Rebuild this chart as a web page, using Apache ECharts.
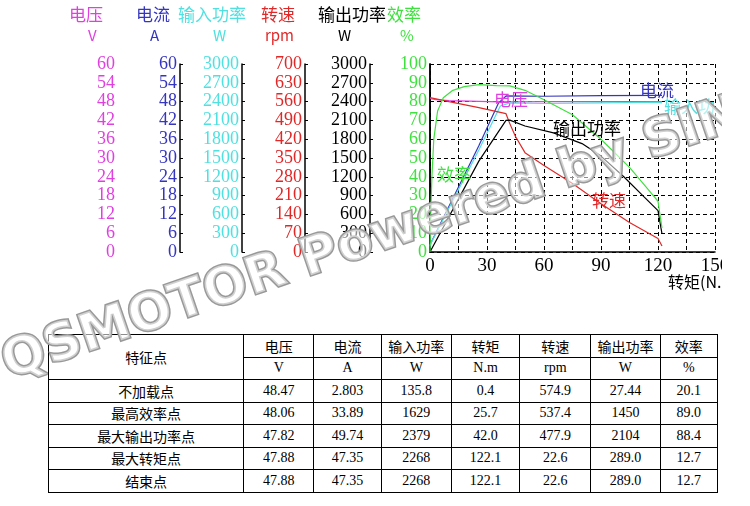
<!DOCTYPE html>
<html>
<head>
<meta charset="utf-8">
<script src="https://cdn.jsdelivr.net/npm/echarts@6/dist/echarts.min.js"></script>
<style>
  body { margin: 0; background: #fff; width: 750px; height: 506px; overflow: hidden; position: relative; }
  #chart { position: absolute; left: 0; top: 0; width: 722px; height: 506px; pointer-events: none; }
  table { position: absolute; left: 48px; top: 334px; width: 670px; border-collapse: collapse;
          font-family: "Liberation Serif", "Noto Sans CJK SC", serif; font-size: 14px; }
  td { border: 1px solid #000; text-align: center; height: 21.5px; padding: 0; }
</style>
</head>
<body>
<table id="tbl"></table>
<div id="chart"></div>
<script>
// table
var tableHead = ['电压', '电流', '输入功率', '转矩', '转速', '输出功率', '效率'];
var tableUnits = ['V', 'A', 'W', 'N.m', 'rpm', 'W', '%'];
var tableRows = [
    ['不加载点', '48.47', '2.803', '135.8', '0.4', '574.9', '27.44', '20.1'],
    ['最高效率点', '48.06', '33.89', '1629', '25.7', '537.4', '1450', '89.0'],
    ['最大输出功率点', '47.82', '49.74', '2379', '42.0', '477.9', '2104', '88.4'],
    ['最大转矩点', '47.88', '47.35', '2268', '122.1', '22.6', '289.0', '12.7'],
    ['结束点', '47.88', '47.35', '2268', '122.1', '22.6', '289.0', '12.7']
];
var colWidths = [198, 70, 67, 70, 68, 71, 69, 57];

// curves, x = torque
var voltageData = [[0, 49], [3, 48.6], [10, 48.3], [25.7, 48.06], [37, 47.9], [42, 47.9], [60, 48], [90, 48], [122.1, 48]];
var currentData = [[0, 1.5], [0.4, 2.8], [25.7, 33.89], [36, 47.5], [40, 49.8], [60, 49.7], [90, 49.9], [120, 50], [122.1, 50]];
var inputData = [[0, 100], [0.4, 135.8], [25.7, 1629], [37, 2330], [42, 2379], [60, 2370], [90, 2380], [120, 2390], [122.1, 2380]];
var speedData = [[0, 575], [0.4, 574.9], [10, 560], [25.7, 537.4], [40, 515], [42, 478], [45, 430], [50, 370], [60, 322], [75, 255], [90, 180], [105, 110], [120, 50], [122.1, 22.6]];
var outputData = [[0, 0], [0.4, 27], [25.7, 1450], [40, 2100], [42, 2104], [50, 2010], [65, 1900], [80, 1730], [90, 1530], [102, 1200], [112, 900], [120, 660], [122.1, 289]];
var effData = [[0, 0], [0.4, 20.1], [1, 40], [2, 60], [4, 75], [7, 82], [12, 86], [18, 88], [25.7, 89], [35, 88.5], [42, 88.4], [50, 86], [60, 81], [75, 73], [90, 60], [105, 45], [115, 33], [120, 27], [122.1, 12.7]];

var tbl = document.getElementById('tbl');
var html = '<tr><td rowspan="2" style="width:' + colWidths[0] + 'px">特征点</td>';
tableHead.forEach(function (h, i) { html += '<td style="width:' + colWidths[i + 1] + 'px">' + h + '</td>'; });
html += '</tr><tr>';
tableUnits.forEach(function (u) { html += '<td>' + u + '</td>'; });
html += '</tr>';
tableRows.forEach(function (r) {
    html += '<tr>' + r.map(function (c) { return '<td>' + c + '</td>'; }).join('') + '</tr>';
});
tbl.innerHTML = html;

var numFont = '"Liberation Serif", serif';
function makeAxis(color, max, interval, offset, isMain) {
    return {
        type: 'value', position: 'left', min: 0, max: max, interval: interval, offset: offset,
        axisLine: { show: true, lineStyle: { color: '#000', width: 1.5 } },
        axisTick: { show: true, inside: true, length: 3, lineStyle: { color: '#000' } },
        axisLabel: { color: color, fontFamily: numFont, fontSize: 18, margin: 3, interval: 0,
            showMinLabel: true, showMaxLabel: true, hideOverlap: false,
            formatter: function (v) { return String(v); } },
        splitLine: { show: isMain, lineStyle: { color: '#000', type: [4, 3] } }
    };
}
var yAxes = [
    makeAxis('#e040e0', 60, 6, 312, false),
    makeAxis('#3535c0', 60, 6, 250, false),
    makeAxis('#50e0e0', 3000, 300, 188, false),
    makeAxis('#e02828', 700, 70, 125, false),
    makeAxis('#000', 3000, 300, 60, false),
    makeAxis('#40e040', 100, 10, 0, true)
];

function line(name, color, data, yi) {
    return { name: name, type: 'line', yAxisIndex: yi, data: data, showSymbol: false,
        lineStyle: { color: color, width: 1.2 }, itemStyle: { color: color }, z: 3 };
}

function label(text, x, y, color, size) {
    return { type: 'text', left: x, top: y, z: 5,
        style: { text: text, fill: color, font: (size || 17) + 'px "Noto Sans CJK SC"' } };
}

var chart = echarts.init(document.getElementById('chart'));
chart.setOption({
    animation: false,
    grid: { left: 430, right: 7, top: 64, bottom: 254, outerBoundsMode: 'none' },
    xAxis: {
        type: 'value', min: 0, max: 150, interval: 15,
        axisLine: { lineStyle: { color: '#000', width: 1.5 } },
        axisTick: { show: false },
        axisLabel: { fontFamily: numFont, fontSize: 19, color: '#000', showMaxLabel: true, showMinLabel: true,
            hideOverlap: false, margin: 5, interval: 0,
            formatter: function (v) { return v % 30 === 0 ? String(v) : ''; } },
        splitLine: { show: true, lineStyle: { color: '#000', type: [4, 3] } }
    },
    yAxis: yAxes,
    series: [
        line('电压', '#e040e0', voltageData, 0),
        line('电流', '#3535c0', currentData, 1),
        line('输入功率', '#50e0e0', inputData, 2),
        line('转速', '#e02828', speedData, 3),
        line('输出功率', '#000', outputData, 4),
        line('效率', '#40e040', effData, 5)
    ],
    graphic: [
        label('电压', 69, 6, '#e040e0'), label('V', 88, 28, '#e040e0', 15),
        label('电流', 136, 6, '#3535c0'), label('A', 150, 28, '#3535c0', 15),
        label('输入功率', 178, 6, '#50e0e0'), label('W', 213, 28, '#50e0e0', 15),
        label('转速', 261, 6, '#e02828'), label('rpm', 265, 28, '#e02828', 15),
        label('输出功率', 318, 6, '#000'), label('W', 338, 28, '#000', 15),
        label('效率', 387, 6, '#40e040'), label('%', 400, 28, '#40e040', 15),
        label('电压', 494, 91, '#e040e0'),
        label('电流', 640, 82, '#3535c0'),
        label('输入功', 664, 98, '#50e0e0'),
        label('输出功率', 553, 120, '#000'),
        label('效率', 437, 166, '#40e040'),
        label('转速', 592, 192, '#e02828'),
        label('转矩(N.m)', 668, 274, '#000', 16),
        {
            type: 'text', x: 372, y: 240, rotation: 0.33, z: 10,
            style: { text: 'QSMOTOR Powered by SIN', align: 'center', verticalAlign: 'middle',
                font: 'bold 52px "DejaVu Sans"', fill: 'rgba(255,255,255,0.55)',
                stroke: '#999', lineWidth: 3 }
        }
    ]
});
</script>
</body>
</html>
